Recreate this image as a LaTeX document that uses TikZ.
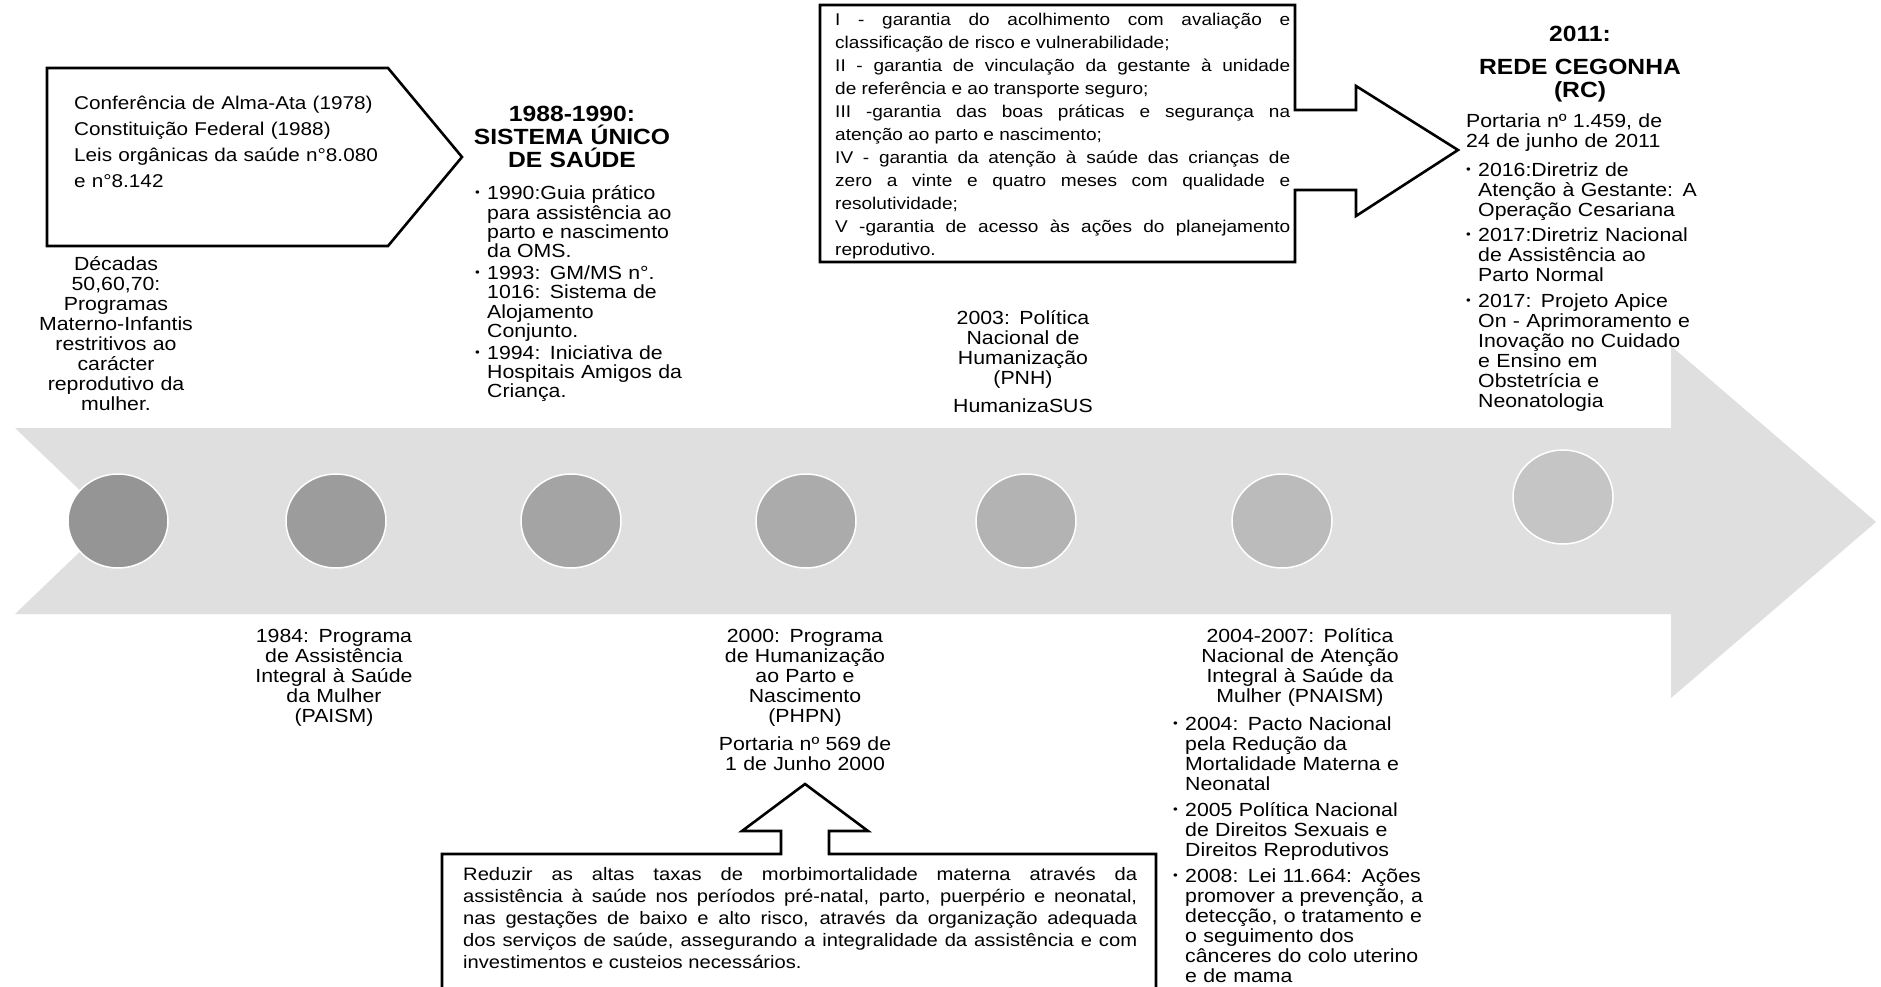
\documentclass[tikz,border=0pt]{standalone}
\usepackage{fontspec}
\setmainfont{Liberation Sans}[FakeStretch=1.12]
\usetikzlibrary{shapes.geometric, positioning}

\definecolor{bandgray}{HTML}{DFDFDF}
\definecolor{dot1}{HTML}{959595}
\definecolor{dot2}{HTML}{9C9C9C}
\definecolor{dot3}{HTML}{A4A4A4}
\definecolor{dot4}{HTML}{ABABAB}
\definecolor{dot5}{HTML}{B3B3B3}
\definecolor{dot6}{HTML}{BBBBBB}
\definecolor{dot7}{HTML}{C5C5C5}

\newcommand{\lblfont}{\fontsize{19}{20}\selectfont}
\newcommand{\susfont}{\fontsize{19}{19.2}\selectfont}
\newcommand{\ttlfont}{\fontsize{22}{23}\selectfont\bfseries}
\newcommand{\pentfont}{\fontsize{18.5}{26}\selectfont}
\newcommand{\rulefont}{\fontsize{17}{23}\selectfont}
\newcommand{\goalfont}{\fontsize{18}{22}\selectfont}
\newcommand{\blt}{\makebox[12pt][l]{\raisebox{3pt}{\fontsize{12}{12}\selectfont •}}}
\newcommand{\bfirst}[1]{\hangindent=12pt\hangafter=1\noindent\blt#1\par}
\newcommand{\bnext}[2][5pt]{\vspace{#1}\bfirst{#2}}

\tikzstyle{milestone} = [ellipse, draw=white, line width=1.5pt, minimum width=100pt, minimum height=94pt, inner sep=0pt]
\tikzstyle{tblock} = [inner sep=0pt, text width=230pt, align=center, font=\lblfont]
\tikzstyle{hblock} = [inner sep=0pt, text width=260pt, align=center, font=\ttlfont]
\tikzstyle{bblock} = [inner sep=0pt, text width=260pt, align=left, font=\lblfont]
\tikzstyle{jblock} = [inner sep=0pt, align=justify]
\tikzstyle{callout} = [draw=black, line width=2.6pt, fill=white, line join=miter]

\begin{document}
\begin{tikzpicture}[x=1pt, y=-1pt, node distance=218pt]
    \useasboundingbox (0,0) rectangle (1881,987);
    \fill[white] (0,0) rectangle (1881,987);
    % Timeline band
    \fill[bandgray] (15,428) -- (1671,428) -- (1671,346) -- (1876,522) -- (1671,698) -- (1671,614) -- (15,614) -- (112,521) -- cycle;
    % Place milestones
    \node [milestone, fill=dot1] (m1) at (118,521) {};
    \node [milestone, fill=dot2, right of=m1] (m2) {};
    \node [milestone, fill=dot3, right of=m2, node distance=235pt] (m3) {};
    \node [milestone, fill=dot4, right of=m3, node distance=235pt] (m4) {};
    \node [milestone, fill=dot5, right of=m4, node distance=220pt] (m5) {};
    \node [milestone, fill=dot6, right of=m5, node distance=256pt] (m6) {};
    \node [milestone, fill=dot7, right of=m6, node distance=281pt, yshift=24pt] (m7) {};
    % Draw callouts
    \draw [callout] (47,68) -- (388,68) -- (462,157) -- (388,246) -- (47,246) -- cycle;
    \draw [callout] (820,5) -- (1295,5) -- (1295,110) -- (1356,110) -- (1356,86) -- (1458,150) -- (1356,216) -- (1356,190) -- (1295,190) -- (1295,262) -- (820,262) -- cycle;
    \draw [callout] (442,854) -- (781,854) -- (781,831) -- (742,831) -- (805,784) -- (868,831) -- (829,831) -- (829,854) -- (1156,854) -- (1156,1000) -- (442,1000) -- cycle;
    % Place texts above the band
    \node [bblock, text width=330pt, font=\pentfont, anchor=base west] (marcos) at (74,110) {Conferência de Alma-Ata (1978)\\Constituição Federal (1988)\\Leis orgânicas da saúde n°8.080\\e n°8.142};
    \node [tblock, anchor=base] (decadas) at (116,270) {Décadas\\50,60,70:\\Programas\\Materno-Infantis\\restritivos ao\\carácter\\reprodutivo da\\mulher.};
    \node [hblock, anchor=base] (sus) at (572,122) {1988-1990:\\SISTEMA ÚNICO\\DE SAÚDE};
    \node [bblock, font=\susfont, anchor=base west] (susitems) at (475,200) {\bfirst{1990:Guia prático\newline para assistência ao\newline parto e nascimento\newline da OMS.}\bnext[3pt]{1993: GM/MS n°.\newline 1016: Sistema de\newline Alojamento\newline Conjunto.}\bnext[3pt]{1994: Iniciativa de\newline Hospitais Amigos da\newline Criança.}};
    \node [jblock, text width=455pt, font=\rulefont, anchor=base west] (rules) at (835,26) {I - garantia do acolhimento com avaliação e\linebreak classificação de risco e vulnerabilidade;\par II - garantia de vinculação da gestante à unidade\linebreak de referência e ao transporte seguro;\par III -garantia das boas práticas e segurança na\linebreak atenção ao parto e nascimento;\par IV - garantia da atenção à saúde das crianças de\linebreak zero a vinte e quatro meses com qualidade e\linebreak resolutividade;\par V -garantia de acesso às ações do planejamento\linebreak reprodutivo.};
    \node [tblock, anchor=base] (pnh) at (1023,324) {2003: Política\\Nacional de\\Humanização\\(PNH)\\[8pt]HumanizaSUS};
    \node [hblock, anchor=base] (rc) at (1580,42) {2011:\\[10pt]REDE CEGONHA\\(RC)};
    \node [bblock, anchor=base west] (rcitems) at (1466,128) {Portaria nº 1.459, de\newline 24 de junho de 2011\par\bnext[9pt]{2016:Diretriz de\newline Atenção à Gestante: A\newline Operação Cesariana}\bnext{2017:Diretriz Nacional\newline de Assistência ao\newline Parto Normal}\bnext[6pt]{2017: Projeto Apice\newline On - Aprimoramento e\newline Inovação no Cuidado\newline e Ensino em\newline Obstetrícia e\newline Neonatologia}};
    % Place texts below the band
    \node [tblock, anchor=base] (paism) at (334,642) {1984: Programa\\de Assistência\\Integral à Saúde\\da Mulher\\(PAISM)};
    \node [tblock, anchor=base] (phpn) at (805,642) {2000: Programa\\de Humanização\\ao Parto e\\Nascimento\\(PHPN)\\[8pt]Portaria nº 569 de\\1 de Junho 2000};
    \node [tblock, anchor=base] (pnaism) at (1300,642) {2004-2007: Política\\Nacional de Atenção\\Integral à Saúde da\\Mulher (PNAISM)};
    \node [bblock, anchor=base west] (pnaismitems) at (1173,730) {\bfirst{2004: Pacto Nacional\newline pela Redução da\newline Mortalidade Materna e\newline Neonatal}\bnext[6pt]{2005 Política Nacional\newline de Direitos Sexuais e\newline Direitos Reprodutivos}\bnext[6pt]{2008: Lei 11.664: Ações\newline promover a prevenção, a\newline detecção, o tratamento e\newline o seguimento dos\newline cânceres do colo uterino\newline e de mama}};
    \node [jblock, text width=674pt, font=\goalfont, anchor=base west] (goal) at (463,880) {Reduzir as altas taxas de morbimortalidade materna através da\linebreak assistência à saúde nos períodos pré-natal, parto, puerpério e neonatal,\linebreak nas gestações de baixo e alto risco, através da organização adequada\linebreak dos serviços de saúde, assegurando a integralidade da assistência e com\linebreak investimentos e custeios necessários.};
\end{tikzpicture}
\end{document}
